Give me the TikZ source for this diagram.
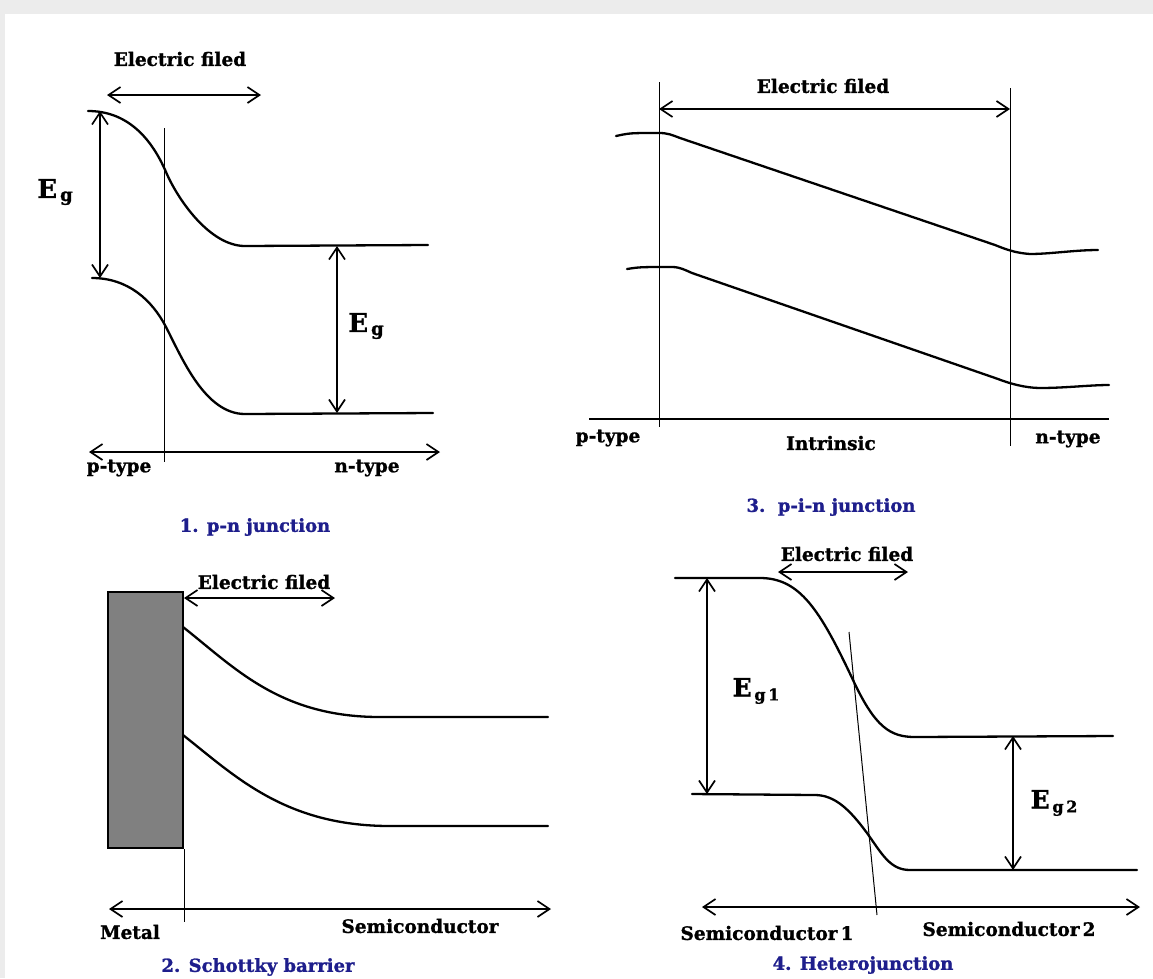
\documentclass[tikz,border=0pt]{standalone}
\usepackage{fontspec}
\setmainfont{DejaVu Serif}[BoldFeatures={FakeBold=1.2}]
\usetikzlibrary{arrows.meta}
\definecolor{capblue}{HTML}{1E1E8C}
\definecolor{metalgray}{HTML}{808080}
\definecolor{framegray}{HTML}{ECECEC}
\begin{document}
\begin{tikzpicture}[x=1pt,y=-1pt,
  band/.style={line width=2.3pt, line cap=round, line join=round},
  guideline/.style={line width=1pt},
  barb/.tip={Straight Barb[length=12pt,width=16pt,line width=1.7pt]},
  dimarrow/.style={line width=1.9pt, barb-barb},
  axisline/.style={line width=2.2pt, barb-barb},
  lbl/.style={font=\fontsize{18.5}{20}\selectfont\bfseries, inner sep=0pt},
  caption/.style={font=\fontsize{18}{20}\selectfont\bfseries, inner sep=0pt, text=capblue},
  eglbl/.style={font=\fontsize{26}{28}\selectfont\bfseries, inner sep=0pt}
]
% background and frame
\fill[framegray] (0,0) rectangle (1153,978);
\fill[white] (5,14) rectangle (1153,978);
\useasboundingbox (0,0) rectangle (1153,978);

% ================= Panel 1: p-n junction =================
\node[lbl] (ef1) at (180,59) {Electric filed};
\coordinate (ef1a) at (107,95);
\coordinate (ef1b) at (261,95);
\draw[dimarrow] (ef1a) -- (ef1b);
\coordinate (j1top) at (164,128);
\coordinate (j1bot) at (164,462);
\draw[guideline] (j1top) -- (j1bot);
\draw[band] (88,111) .. controls (125,111) and (150,135) .. (166,172)
  .. controls (178,200) and (210,246) .. (245,246) -- (428,245);
\draw[band] (92,278) .. controls (128,278) and (152,300) .. (166,327)
  .. controls (182,358) and (205,414) .. (245,414) -- (433,413);
\coordinate (eg1t) at (100,111);
\coordinate (eg1b) at (100,278);
\draw[dimarrow] (eg1t) -- (eg1b);
\node[eglbl] (eg1l) at (55,192) {E\raisebox{-3pt}{\fontsize{18}{19}\selectfont\,g}};
\coordinate (eg2t) at (337,246);
\coordinate (eg2b) at (337,413);
\draw[dimarrow] (eg2t) -- (eg2b);
\node[eglbl] (eg2l) at (366,326) {E\raisebox{-3pt}{\fontsize{18}{19}\selectfont\,g}};
\coordinate (ax1a) at (89,452);
\coordinate (ax1b) at (440,452);
\draw[axisline] (ax1a) -- (ax1b);
\node[lbl] (p1) at (119,468) {p-type};
\node[lbl] (n1) at (367,468) {n-type};
\node[caption] (cap1) at (255,527) {1. p-n junction};

% ================= Panel 3: p-i-n junction =================
\node[lbl] (ef3) at (823,86) {Electric filed};
\coordinate (v3la) at (659,82);
\coordinate (v3lb) at (659,427);
\coordinate (v3ra) at (1010,88);
\coordinate (v3rb) at (1010,446);
\draw[guideline] (v3la) -- (v3lb);
\draw[guideline] (v3ra) -- (v3rb);
\coordinate (ef3a) at (659,109);
\coordinate (ef3b) at (1010,109);
\draw[dimarrow] (ef3a) -- (ef3b);
\draw[band] (616,136) .. controls (630,133) .. (659,133)
  .. controls (668,133) and (672,135) .. (680,138) -- (995,245)
  .. controls (1005,249) and (1015,253) .. (1030,254)
  .. controls (1050,254) and (1075,250) .. (1098,250);
\draw[band] (627,269) .. controls (640,267) .. (672,267)
  .. controls (680,267) and (685,270) .. (692,273) -- (998,379)
  .. controls (1008,383) and (1025,388) .. (1040,388)
  .. controls (1065,388) and (1090,385) .. (1109,385);
\coordinate (ax3a) at (589,419);
\coordinate (ax3b) at (1109,419);
\draw[line width=2.6pt] (ax3a) -- (ax3b);
\node[lbl] (p3) at (608,438) {p-type};
\node[lbl] (i3) at (831,443) {Intrinsic};
\node[lbl] (n3) at (1068,439) {n-type};
\node[caption] (cap3) at (831,507) {3.\ \ p-i-n junction};

% ================= Panel 2: Schottky barrier =================
\node[lbl] (ef2) at (264,582) {Electric filed};
\node[draw=black, line width=2pt, fill=metalgray, minimum width=75pt, minimum height=256pt, inner sep=0pt, anchor=north west] (metal) at (107,591) {};
\coordinate (ef2a) at (metal.north east |- 0,598);
\coordinate (ef2b) at (335,598);
\draw[dimarrow] (ef2a) -- (ef2b);
\coordinate (v2b) at ([yshift=-73pt]metal.south east);
\draw[guideline] (metal.south east) -- (v2b);
\draw[band] (183,627) .. controls (235,668) and (280,717) .. (380,717) -- (548,717);
\draw[band] (183,735) .. controls (235,776) and (285,826) .. (390,826) -- (548,826);
\coordinate (ax2a) at (109,909);
\coordinate (ax2b) at (551,909);
\draw[axisline] (ax2a) -- (ax2b);
\node[lbl] (m2) at (130,932) {Metal};
\node[lbl] (s2) at (420,926) {Semiconductor};
\node[caption] (cap2) at (258,967) {2. Schottky barrier};

% ================= Panel 4: Heterojunction =================
\node[lbl] (ef4) at (847,554) {Electric filed};
\coordinate (ef4a) at (778,572);
\coordinate (ef4b) at (908,572);
\draw[dimarrow] (ef4a) -- (ef4b);
\draw[band] (675,578) -- (760,578) .. controls (800,578) and (820,610) .. (853,680)
  .. controls (875,727) and (890,737) .. (915,737) -- (1113,736);
\draw[band] (692,794) -- (815,795) .. controls (835,795) and (850,810) .. (867,833)
  .. controls (882,854) and (890,870) .. (910,870) -- (1137,870);
\coordinate (sl4a) at (849,632);
\coordinate (sl4b) at (877,915);
\draw[guideline] (sl4a) -- (sl4b);
\coordinate (eg41t) at (707,578);
\coordinate (eg41b) at (707,794);
\draw[dimarrow] (eg41t) -- (eg41b);
\node[eglbl, font=\fontsize{25}{26}\selectfont\bfseries] (eg41l) at (756,691) {E\raisebox{-4pt}{\fontsize{16}{17}\selectfont\,g\,1}};
\coordinate (eg42t) at (1013,736);
\coordinate (eg42b) at (1013,870);
\draw[dimarrow] (eg42t) -- (eg42b);
\node[eglbl, font=\fontsize{25}{26}\selectfont\bfseries] (eg42l) at (1054,803) {E\raisebox{-4pt}{\fontsize{16}{17}\selectfont\,g\,2}};
\coordinate (ax4a) at (702,907);
\coordinate (ax4b) at (1140,907);
\draw[axisline] (ax4a) -- (ax4b);
\node[lbl] (s41) at (767,933) {Semiconductor\,1};
\node[lbl] (s42) at (1009,929) {Semiconductor\,2};
\node[caption] (cap4) at (863,965) {4. Heterojunction};
\end{tikzpicture}
\end{document}
